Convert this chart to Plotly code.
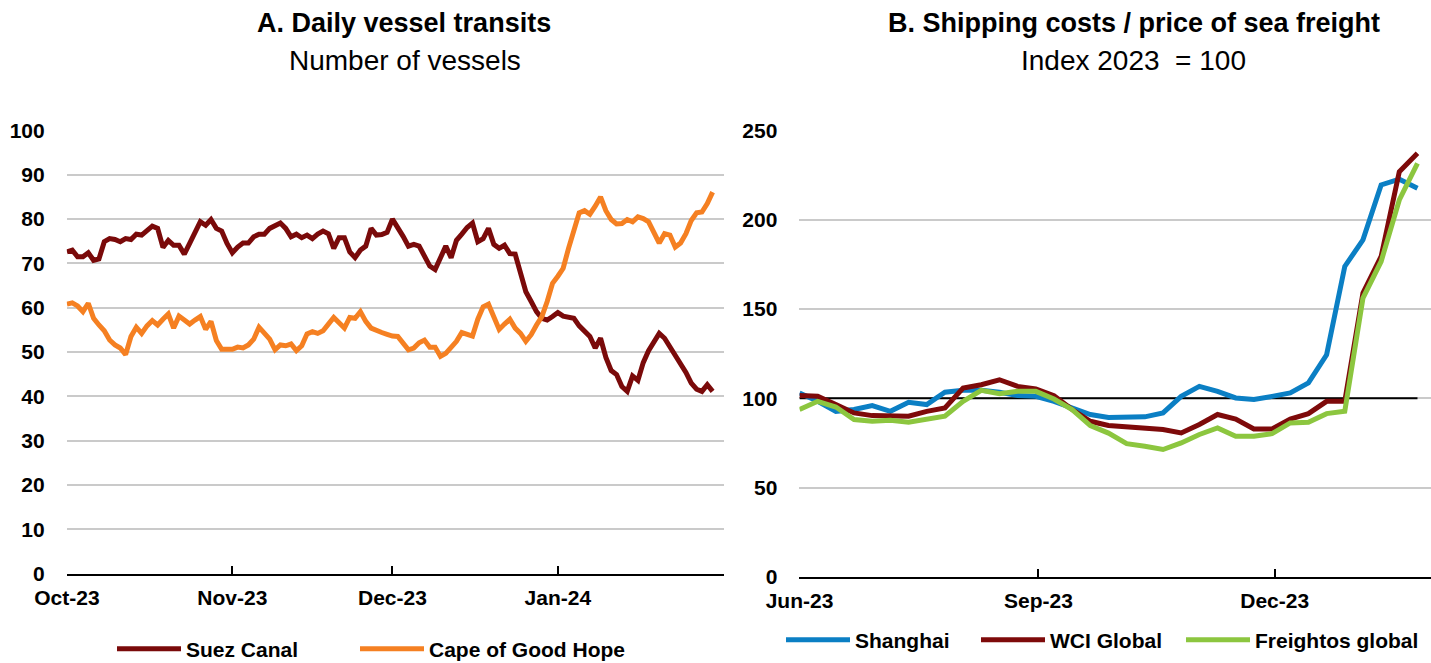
import pandas as pd
import plotly.graph_objects as go

# ---------------- Data ----------------
# Panel A: daily vessel transits, 1 Oct 2023 .. 30 Jan 2024
transit_start = "2023-10-01"
suez_canal = [
    72.6, 73.0, 71.5, 71.5, 72.4, 70.7, 71.0, 74.9, 75.6, 75.4,
    74.9, 75.6, 75.4, 76.6, 76.4, 77.3, 78.4, 77.9, 73.6, 75.2,
    74.1, 74.1, 72.1, 74.5, 77.3, 79.4, 78.6, 79.9, 77.9, 77.3,
    74.5, 72.4, 73.7, 74.6, 74.6, 76.0, 76.6, 76.6, 77.9, 78.4,
    79.1, 77.9, 76.0, 76.6, 75.8, 76.4, 75.6, 76.6, 77.3, 76.7,
    73.4, 75.8, 75.8, 72.6, 71.3, 73.0, 73.9, 77.9, 76.4, 76.5,
    77.0, 80.0, 78.2, 76.1, 73.9, 74.3, 73.9, 71.9, 69.4, 68.6,
    71.1, 73.9, 71.3, 75.2, 76.6, 78.1, 79.1, 74.9, 75.6, 77.9,
    74.3, 73.4, 74.1, 72.2, 72.1, 67.7, 63.6, 61.4, 59.1, 57.6,
    57.2, 58.0, 58.9, 58.1, 57.8, 57.6, 55.9, 54.8, 53.5, 50.9,
    53.1, 48.8, 45.8, 44.9, 42.2, 41.1, 44.6, 43.6, 47.6, 50.3,
    52.4, 54.2, 53.1, 51.2, 49.7, 47.5, 45.4, 43.0, 41.6, 41.1,
    42.6, 41.1,
]
cape_good_hope = [
    60.8, 61.1, 60.4, 59.1, 61.0, 57.6, 56.1, 54.8, 52.7, 51.6,
    50.9, 49.4, 53.5, 55.6, 54.2, 55.9, 57.1, 56.1, 57.4, 58.6,
    55.4, 58.1, 57.2, 56.3, 57.2, 58.0, 55.1, 56.9, 52.6, 50.6,
    50.6, 50.6, 51.1, 50.9, 51.6, 52.9, 55.6, 54.2, 52.9, 50.5,
    51.6, 51.4, 51.8, 50.3, 51.4, 54.1, 54.6, 54.2, 54.8, 56.3,
    57.8, 56.6, 55.4, 57.8, 57.6, 59.1, 56.9, 55.4, 54.8, 54.4,
    54.0, 53.6, 53.5, 51.8, 50.5, 50.9, 52.1, 52.7, 51.1, 51.1,
    49.0, 49.7, 51.1, 52.4, 54.4, 53.9, 53.6, 57.4, 60.2, 60.8,
    58.1, 55.1, 56.3, 57.4, 55.4, 54.2, 52.4, 53.9, 56.1, 58.0,
    61.4, 65.5, 67.1, 68.9, 73.4, 77.1, 81.4, 81.9, 81.1, 82.9,
    85.0, 81.9, 79.9, 78.9, 79.0, 79.9, 79.4, 80.5, 80.1, 79.4,
    77.1, 74.6, 76.7, 76.4, 73.7, 74.6, 76.7, 79.7, 81.4, 81.6,
    83.5, 86.1,
]

# Panel B: weekly freight indices (2023 = 100), from 1 Jun 2023
freight_start = "2023-06-01"
shanghai = [
    103.0, 98.3, 92.7, 93.7, 95.9, 92.7, 97.8, 96.5, 103.4, 104.5,
    104.5, 103.4, 101.5, 101.1, 98.3, 94.6, 90.9, 89.2, 89.4, 89.6,
    91.8, 101.1, 106.7, 103.9, 100.2, 99.3, 101.1, 103.0, 108.6, 124.4,
    173.9, 188.8, 219.6, 222.8, 217.7,
]
wci_global = [
    101.5, 101.1, 96.5, 91.8, 90.3, 90.0, 90.0, 92.7, 94.6, 105.8,
    107.6, 110.4, 106.7, 105.2, 101.5, 93.7, 87.1, 84.8, 84.0, 82.8,
    82.5, 80.6, 85.3, 90.9, 88.4, 82.8, 82.8, 88.4, 91.4, 98.3,
    98.3, 159.0, 179.5, 227.0, 237.3,
]
freightos_global = [
    93.7, 98.3, 95.1, 88.1, 87.1, 87.7, 86.6, 88.1, 90.0, 98.3,
    104.5, 102.6, 103.9, 103.9, 99.6, 93.7, 84.7, 80.5, 74.6, 73.1,
    71.3, 75.0, 79.7, 83.4, 78.7, 78.7, 80.2, 86.2, 86.6, 91.4,
    92.7, 156.2, 176.7, 211.2, 231.7,
]
index_base = 100

# Tick labels
a_tickvals = ["2023-10-01", "2023-11-01", "2023-12-01", "2024-01-01", "2024-02-01"]
a_ticktext = ["Oct-23", "Nov-23", "Dec-23", "Jan-24", ""]
b_tickvals = ["2023-06-01", "2023-09-01", "2023-12-01"]
b_ticktext = ["Jun-23", "Sep-23", "Dec-23"]

days = pd.date_range(transit_start, periods=len(suez_canal), freq="D")
weeks = pd.date_range(freight_start, periods=len(shanghai), freq="7D")

# ---------------- Styling ----------------
W, H = 1431, 663
FONT = "Liberation Sans, Arial, sans-serif"
GRID = "#cacaca"
LW = 5

def px_x(p):
    return p / W

def px_y(p):
    return 1 - p / H

fig = go.Figure()

fig.add_trace(go.Scatter(x=days, y=suez_canal, name="Suez Canal", mode="lines",
                         line=dict(color="#7a0a0a", width=LW),
                         xaxis="x", yaxis="y", legend="legend"))
fig.add_trace(go.Scatter(x=days, y=cape_good_hope, name="Cape of Good Hope", mode="lines",
                         line=dict(color="#f58022", width=LW),
                         xaxis="x", yaxis="y", legend="legend2"))

fig.add_trace(go.Scatter(x=weeks, y=[index_base] * len(weeks), mode="lines",
                         line=dict(color="black", width=2), showlegend=False,
                         hoverinfo="skip", xaxis="x2", yaxis="y2"))
fig.add_trace(go.Scatter(x=weeks, y=shanghai, name="Shanghai", mode="lines",
                         line=dict(color="#0b7fc4", width=LW),
                         xaxis="x2", yaxis="y2", legend="legend3"))
fig.add_trace(go.Scatter(x=weeks, y=wci_global, name="WCI Global", mode="lines",
                         line=dict(color="#7e0a0a", width=LW),
                         xaxis="x2", yaxis="y2", legend="legend4"))
fig.add_trace(go.Scatter(x=weeks, y=freightos_global, name="Freightos global", mode="lines",
                         line=dict(color="#8cc63f", width=LW),
                         xaxis="x2", yaxis="y2", legend="legend5"))

tickfont = dict(family=FONT, size=21, color="black", weight="bold")

xcommon = dict(type="date", showgrid=False, zeroline=False, showline=True,
               linecolor="black", linewidth=2, ticks="inside", ticklen=8,
               tickwidth=2, tickcolor="black", tickfont=tickfont,
               tickmode="array", ticklabelstandoff=4, automargin=False)
ycommon = dict(showgrid=True, gridcolor=GRID, gridwidth=2, zeroline=False,
               showline=False, ticks="", tickfont=tickfont, ticklabelstandoff=21,
               automargin=False)

fig.update_layout(
    xaxis=dict(xcommon, domain=[px_x(66.7), px_x(723.5)], anchor="y",
               range=["2023-09-30 23:00", "2024-02-01 01:00"],
               tickvals=a_tickvals, ticktext=a_ticktext),
    yaxis=dict(ycommon, domain=[px_y(573.5), px_y(130.5)], anchor="x",
               range=[0, 100], dtick=10, tick0=0),
    xaxis2=dict(xcommon, domain=[px_x(799.4), 1.0], anchor="y2",
                range=["2023-05-31 23:00", "2024-01-30 05:00"],
                tickvals=b_tickvals, ticktext=b_ticktext),
    yaxis2=dict(ycommon, domain=[px_y(576.7), px_y(130.7)], anchor="x2",
                range=[0, 250], dtick=50, tick0=0),
)

legend_font = dict(family=FONT, size=21, color="black", weight="bold")

def leg(xpx, ypx):
    return dict(x=px_x(xpx), y=px_y(ypx), xanchor="left", yanchor="middle",
                orientation="h", font=legend_font, itemwidth=64,
                bgcolor="rgba(0,0,0,0)", borderwidth=0, tracegroupgap=0)

fig.update_layout(
    legend=leg(112, 649),
    legend2=leg(355, 649),
    legend3=leg(781, 640),
    legend4=leg(976, 640),
    legend5=leg(1181, 640),
)

titles = [
    (404, 23, "A. Daily vessel transits", True),
    (405, 60, "Number of vessels", False),
    (1134, 23, "B. Shipping costs / price of sea freight", True),
    (1133, 60, "Index 2023  = 100", False),
]
for xp, yp, txt, bold in titles:
    fig.add_annotation(x=px_x(xp), y=px_y(yp), xref="paper", yref="paper",
                       xanchor="center", yanchor="middle", showarrow=False,
                       text=txt,
                       font=dict(family=FONT, size=27 if bold else 28, color="black",
                                 weight="bold" if bold else "normal"))

fig.update_layout(width=W, height=H,
                  margin=dict(l=0, r=0, t=0, b=0, pad=0, autoexpand=False),
                  paper_bgcolor="white", plot_bgcolor="white",
                  font=dict(family=FONT, color="black"), hovermode=False)

fig.write_html("out.html", config={"displayModeBar": False},
               post_script="document.body.style.margin='0';document.body.style.padding='0';")
